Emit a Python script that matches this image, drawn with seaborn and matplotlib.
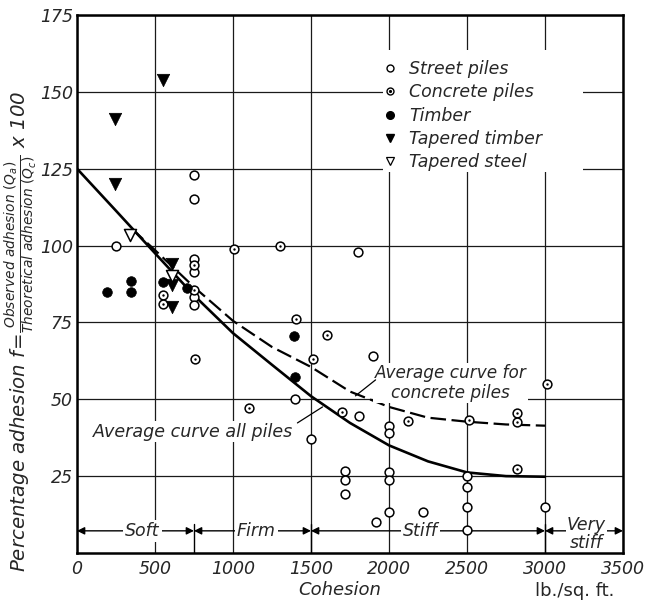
import numpy as np
import pandas as pd
import matplotlib
matplotlib.use("Agg")
import matplotlib.pyplot as plt
import seaborn as sns
from matplotlib.lines import Line2D
from matplotlib.legend_handler import HandlerTuple
from matplotlib.patches import Rectangle

# ---------------- data ----------------
street_x = [750, 750, 250, 750, 750, 750, 750, 1800, 1900, 1400, 1500, 1810, 2000, 2000,
            1720, 1720, 1715, 2000, 2000, 2000, 2215, 1915, 2500, 2500, 2500, 2500, 3000]
street_y = [123, 115, 100, 95.7, 91.5, 83.2, 80.8, 98, 64, 50, 37, 44.6, 41.4, 39,
            26.5, 23.8, 19.2, 26.2, 23.6, 13.4, 13.4, 10, 25, 21.5, 15, 7.5, 15]

concrete_x = [750, 1005, 1300, 750, 550, 550, 755, 1405, 1605, 1510, 1100, 1700, 2120,
              2510, 3010, 2820, 2820, 2820]
concrete_y = [93.8, 99, 100, 85.4, 84, 81, 63, 76, 71, 63, 47, 46, 43,
              43.3, 55, 45.6, 42.7, 27.4]

timber_x = [190, 345, 345, 550, 705, 1390, 1400]
timber_y = [85, 88.6, 85, 88.2, 86.3, 70.7, 57.3]

tapered_timber_x = [245, 245, 550, 610, 610, 610]
tapered_timber_y = [141, 120, 154, 94, 87.3, 80]

tapered_steel_x = [340, 610]
tapered_steel_y = [103.5, 90.2]

all_piles_x = [0, 250, 500, 750, 1000, 1250, 1500, 1750, 2000, 2250, 2500, 2750, 3000]
all_piles_y = [125, 111.3, 97.5, 83.8, 71.5, 61.2, 51, 42.3, 35, 29.8, 26.2, 25, 24.8]

concrete_curve_x = [350, 500, 750, 1000, 1250, 1500, 1750, 2000, 2250, 2500, 2750, 3000]
concrete_curve_y = [105.5, 98.5, 86.5, 75.5, 67, 60.5, 52.5, 47.5, 44, 42.7, 41.8, 41.4]

zone_edges = [0, 750, 1500, 3000, 3500]
zone_names = ["Soft", "Firm", "Stiff", "Very\nstiff"]
zone_label_x = [420, 1150, 2200, 3265]

x_ticks = [0, 500, 1000, 1500, 2000, 2500, 3000, 3500]
y_ticks = [25, 50, 75, 100, 125, 150, 175]

# ---------------- style ----------------
sns.set_style("white")
plt.rcParams["font.family"] = ["DejaVu Sans"]
plt.rcParams["mathtext.fontset"] = "dejavusans"

fig = plt.figure(figsize=(6.52, 6.05), dpi=100)
ax = fig.add_axes([0.1181, 0.0860, 0.8374, 0.8893])
ax.set_xlim(0, 3500)
ax.set_ylim(0, 175)
ax.set_axisbelow(True)

ax.set_xticks(x_ticks)
ax.set_yticks(y_ticks)
ax.set_xticklabels([str(v) for v in x_ticks], fontsize=12.5, fontstyle="italic")
ax.set_yticklabels([str(v) for v in y_ticks], fontsize=12.5, fontstyle="italic")
ax.tick_params(axis="both", which="major", length=0, pad=5)
ax.tick_params(axis="y", which="major", pad=3)
ax.set_xticks([250, 1250, 1750, 2250, 2750], minor=True)
ax.tick_params(axis="x", which="minor", direction="in", length=8, width=1.0, color="black")
ax.grid(True, which="major", color="#1a1a1a", lw=0.9)
for s in ax.spines.values():
    s.set_linewidth(1.8)
    s.set_color("black")

# white box behind legend (interrupts the grid)
ax.add_patch(Rectangle((0.56, 0.708), 0.367, 0.227, transform=ax.transAxes,
                       fc="white", ec="none", zorder=1))

# ---------------- curves ----------------
sns.lineplot(x=all_piles_x, y=all_piles_y, color="black", lw=1.9, ax=ax,
             sort=False, estimator=None, zorder=2)
sns.lineplot(x=concrete_curve_x, y=concrete_curve_y, color="black", lw=1.6, ax=ax,
             sort=False, estimator=None, zorder=2, linestyle=(0, (7, 2.5)))

# ---------------- points ----------------
sns.scatterplot(x=street_x, y=street_y, marker="o", s=40, facecolor="white",
                edgecolor="black", linewidth=1.1, ax=ax, zorder=4)
sns.scatterplot(x=concrete_x, y=concrete_y, marker="o", s=40, facecolor="white",
                edgecolor="black", linewidth=1.1, ax=ax, zorder=4)
sns.scatterplot(x=concrete_x, y=concrete_y, marker="o", s=3, color="black",
                edgecolor="black", linewidth=0, ax=ax, zorder=5)
sns.scatterplot(x=timber_x, y=timber_y, marker="o", s=48, color="black",
                edgecolor="black", linewidth=0.5, ax=ax, zorder=4)
sns.scatterplot(x=tapered_timber_x, y=tapered_timber_y, marker="v", s=80, color="black",
                edgecolor="black", linewidth=0.5, ax=ax, zorder=4)
sns.scatterplot(x=tapered_steel_x, y=tapered_steel_y, marker="v", s=75, facecolor="white",
                edgecolor="black", linewidth=1.1, ax=ax, zorder=4)

# ---------------- legend ----------------
h_street = Line2D([], [], marker="o", ls="none", ms=5, mfc="white", mec="black", mew=1.0)
h_conc_o = Line2D([], [], marker="o", ls="none", ms=5, mfc="white", mec="black", mew=1.0)
h_conc_d = Line2D([], [], marker="o", ls="none", ms=1.3, mfc="black", mec="black")
h_timber = Line2D([], [], marker="o", ls="none", ms=5.5, mfc="black", mec="black")
h_ttimber = Line2D([], [], marker="v", ls="none", ms=6, mfc="black", mec="black")
h_tsteel = Line2D([], [], marker="v", ls="none", ms=6, mfc="white", mec="black", mew=0.9)
leg = ax.legend([h_street, (h_conc_o, h_conc_d), h_timber, h_ttimber, h_tsteel],
                ["Street piles", "Concrete piles", "Timber", "Tapered timber", "Tapered steel"],
                handler_map={tuple: HandlerTuple(ndivide=1, pad=0)},
                loc="upper left", bbox_to_anchor=(0.542, 0.932), frameon=False,
                borderpad=0, handlelength=1.0, handletextpad=0.6, labelspacing=0.30,
                prop={"size": 12.5, "style": "italic"})
leg.set_zorder(6)

# ---------------- curve labels ----------------
ax.text(2395, 55.3, "Average curve for\nconcrete piles", fontsize=12.2, fontstyle="italic",
        ha="center", va="center", linespacing=1.15, zorder=3,
        bbox=dict(fc="white", ec="none", pad=1.0))
ax.annotate("", xy=(1785, 51.1), xytext=(1914, 56.3),
            arrowprops=dict(arrowstyle="-", color="black", lw=0.9, shrinkA=0, shrinkB=0))
ax.text(745, 39.4, "Average curve all piles", fontsize=12.6, fontstyle="italic",
        ha="center", va="center", zorder=3, bbox=dict(fc="white", ec="none", pad=1.0))
ax.annotate("", xy=(1574, 47.5), xytext=(1413, 42.3),
            arrowprops=dict(arrowstyle="-", color="black", lw=0.9, shrinkA=0, shrinkB=0))

# ---------------- consistency zones ----------------
zone_y = 7.2
for x0, x1 in zip(zone_edges[:-1], zone_edges[1:]):
    ax.annotate("", xy=(x1, zone_y), xytext=(x0, zone_y),
                arrowprops=dict(arrowstyle="<|-|>", color="black", lw=1.0,
                                shrinkA=0, shrinkB=0, mutation_scale=11), zorder=3)
for xb in zone_edges[1:-1]:
    ax.plot([xb, xb], [0, 9.5], color="black", lw=1.0, zorder=3)
for name, xl in zip(zone_names, zone_label_x):
    if "\n" in name:
        ax.text(xl, 6.2, name, fontsize=12.5, fontstyle="italic", ha="center", va="center",
                linespacing=0.95, zorder=4, bbox=dict(fc="white", ec="none", pad=0.5))
    else:
        ax.text(xl, zone_y, name, fontsize=12.5, fontstyle="italic", ha="center",
                va="center", zorder=4, bbox=dict(fc="white", ec="none", pad=1.5))

# ---------------- axis labels ----------------
fig.text(340 / 652, 1 - 590 / 605, "Cohesion", fontsize=13, fontstyle="italic",
         ha="center", va="center")
fig.text(575 / 652, 1 - 591 / 605, "lb./sq. ft.", fontsize=13, ha="center", va="center")
fig.text(21 / 652, 1 - 331 / 605,
         r"Percentage adhesion $f\!=\!\frac{\mathit{Observed\ adhesion\ (Q_a)}}"
         r"{\mathit{Theoretical\ adhesion\ (Q_c)}}$ x 100",
         fontsize=14.2, fontstyle="italic", rotation=90, ha="center", va="center")

fig.savefig("out.png", dpi=100)
